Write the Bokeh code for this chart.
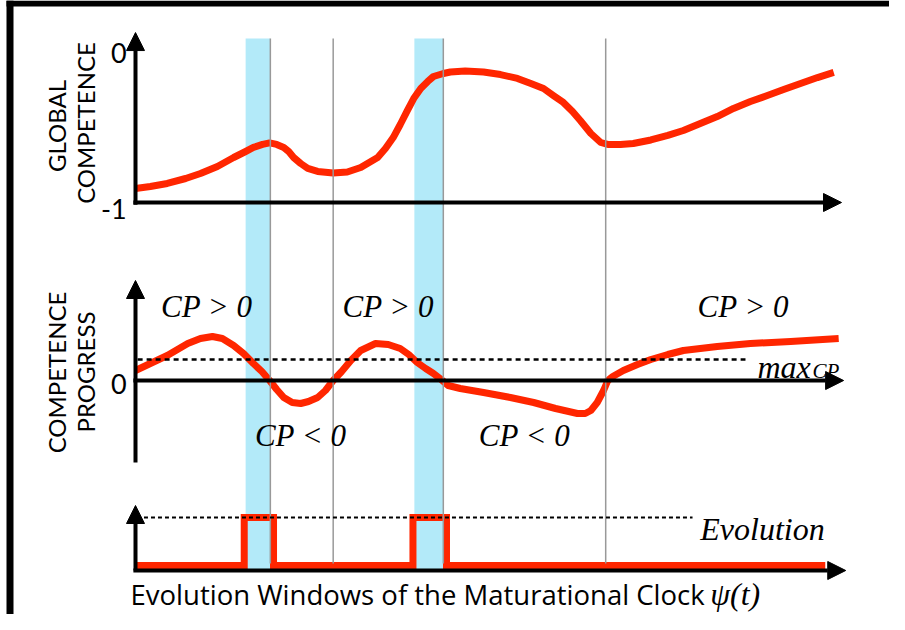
from math import pi
from bokeh.plotting import figure
from bokeh.models import Range1d, Arrow, NormalHead
from bokeh.core.properties import value
from bokeh.embed import file_html
from bokeh.resources import INLINE

# ---------------- data ----------------
# horizontal axis: maturational clock psi(t), read as 0..100 along the arrow
# global competence (0 = top of axis, -1 = bottom)
gc_t = [0.0, 2.1, 4.5, 7.1, 9.2, 11.6, 13.9, 15.6, 16.7, 18.0, 19.0, 20.0, 21.0, 21.7, 22.4,
        23.4, 24.4, 25.8, 28.0, 30.0, 31.9, 33.1, 34.3, 35.4, 36.5, 37.5, 38.5, 39.4, 40.4,
        41.4, 42.2, 43.6, 44.6, 46.7, 49.3, 51.7, 54.1, 56.0, 57.8, 59.2, 60.6, 61.9, 63.0,
        64.5, 65.9, 66.9, 68.7, 70.5, 73.0, 75.4, 77.6, 80.0, 82.4, 84.7, 87.1, 89.5, 91.8,
        94.2, 96.6, 98.9]
gc_v = [-0.907, -0.893, -0.873, -0.840, -0.807, -0.760, -0.700, -0.660, -0.633, -0.613,
        -0.603, -0.613, -0.633, -0.660, -0.700, -0.740, -0.773, -0.793, -0.803, -0.797,
        -0.767, -0.733, -0.700, -0.640, -0.567, -0.480, -0.387, -0.307, -0.240, -0.193,
        -0.160, -0.140, -0.130, -0.123, -0.130, -0.147, -0.173, -0.207, -0.240, -0.287,
        -0.333, -0.393, -0.453, -0.540, -0.600, -0.613, -0.613, -0.607, -0.583, -0.553,
        -0.520, -0.473, -0.427, -0.373, -0.327, -0.287, -0.247, -0.207, -0.167, -0.133]

# competence progress
cp_t = [0.0, 2.1, 4.5, 7.4, 9.2, 10.9, 12.3, 13.9, 15.3, 16.7, 17.9, 19.0, 20.0, 21.0, 22.2,
        23.4, 24.5, 25.8, 26.9, 28.0, 29.2, 30.5, 31.9, 34.0, 35.8, 37.5, 38.7, 39.9, 41.1,
        42.2, 43.3, 44.3, 46.0, 49.3, 53.1, 56.4, 59.5, 62.6, 63.7, 64.5, 65.4, 66.3, 66.9,
        67.6, 69.1, 71.1, 73.0, 75.4, 77.6, 82.4, 87.1, 92.8, 99.6]
cp_v = [0.20, 0.34, 0.50, 0.74, 0.84, 0.88, 0.84, 0.70, 0.54, 0.34, 0.18, 0.00, -0.18,
        -0.34, -0.44, -0.46, -0.42, -0.34, -0.20, 0.00, 0.18, 0.40, 0.60, 0.74, 0.72, 0.64,
        0.52, 0.36, 0.24, 0.14, 0.02, -0.10, -0.16, -0.24, -0.34, -0.44, -0.56, -0.66,
        -0.66, -0.60, -0.44, -0.20, 0.00, 0.08, 0.20, 0.32, 0.42, 0.52, 0.60, 0.68, 0.74,
        0.78, 0.84]
max_cp = 0.42

# evolution windows (0 = no evolution, 1 = evolution)
evo_t = [0.0, 15.4, 15.4, 19.55, 19.55, 39.3, 39.3, 44.05, 44.05, 97.7]
evo_v = [0, 0, 1, 1, 0, 0, 1, 1, 0, 0]
evolution_level = 1

# highlighted windows and stage boundaries
window_start = [15.6, 39.5]
window_end = [19.1, 43.6]
boundaries = [19.1, 28.0, 43.6, 66.6]

# tick labels
gc_ticks = [0, -1]
gc_tick_labels = ["0", "-1"]
cp_ticks = [0]
cp_tick_labels = ["0"]

# ---------------- layout ----------------
W, H = 889, 614
T0_PX, PX_PER_T = 135, 7.06   # clock origin and scale (pixels)


def tx(px):
    return (px - T0_PX) / PX_PER_T


def yr(zero_px, px_per_unit):
    return Range1d(start=(zero_px - H) / px_per_unit, end=zero_px / px_per_unit)


p = figure(width=W, height=H, output_backend="svg", toolbar_location=None,
           x_axis_type=None, y_axis_type=None,
           x_range=Range1d(tx(0), tx(W)),
           y_range=Range1d(H, 0),   # layout range (pixels, downward)
           min_border=0, border_fill_color="white", background_fill_color="white",
           outline_line_color=None)
p.grid.visible = False
p.extra_y_ranges = {"gc": yr(52, 150), "cp": yr(380, 50), "evo": yr(565, 48)}

RED = "#ff2600"
BLUE = "#b3eaf9"
GREY = "#999999"
SANS = value("Lato")
SERIF = value("Liberation Serif")

# black picture frame (left and top edges)
p.quad(left=[tx(6), tx(6)], right=[tx(13), tx(W)],
       top=[0, 0], bottom=[H, 6], fill_color="black", line_color=None)

# windows
p.quad(left=window_start, right=window_end, top=38, bottom=569,
       fill_color=BLUE, line_color=None)

# curves
p.line(gc_t, gc_v, y_range_name="gc", line_color=RED, line_width=7, line_join="round")
p.line(cp_t, cp_v, y_range_name="cp", line_color=RED, line_width=7, line_join="round")
p.line(evo_t, evo_v, y_range_name="evo", line_color=RED, line_width=7, line_join="miter")

# stage boundaries
p.segment(x0=boundaries, x1=boundaries, y0=38, y1=563, line_color=GREY, line_width=1.5)

# thresholds
p.segment(x0=[0.3], x1=[86.4], y0=[max_cp], y1=[max_cp], y_range_name="cp",
          line_color="black", line_width=2.5, line_dash="5 4")
p.segment(x0=[1.2], x1=[78.9], y0=[evolution_level], y1=[evolution_level],
          y_range_name="evo", line_color="black", line_width=2, line_dash="4 3")


def axis_arrow(x0, y0, x1, y1, rng):
    p.add_layout(Arrow(x_start=x0, y_start=y0, x_end=x1, y_end=y1, y_range_name=rng,
                       line_color="black", line_width=4,
                       end=NormalHead(size=18, fill_color="black", line_color="black")))


# axes
axis_arrow(0, -1.015, 0, 0.133, "gc")
axis_arrow(-0.3, -1, 100, -1, "gc")
axis_arrow(0, -1.64, 0, 2.0, "cp")
axis_arrow(-0.3, 0, 100.3, 0, "cp")
axis_arrow(0, -0.104, 0, 1.25, "evo")
axis_arrow(-0.3, -0.104, 100.6, -0.104, "evo")

# tick labels
p.text(x=[-1.25] * len(gc_ticks), y=[gc_ticks[0], gc_ticks[1] - 0.04], text=gc_tick_labels,
       y_range_name="gc", text_font=SANS, text_font_size="27px",
       text_align="right", text_baseline="middle", text_color="black")
p.text(x=[-1.25], y=[cp_ticks[0] - 0.06], text=cp_tick_labels,
       y_range_name="cp", text_font=SANS, text_font_size="27px",
       text_align="right", text_baseline="middle", text_color="black")

# axis titles (rotated)
p.text(x=[-11.2, -7.15], y=[-0.49, -0.47], text=["GLOBAL", "COMPETENCE"], y_range_name="gc",
       angle=pi / 2, text_font=SANS, text_font_size="24px",
       text_align="center", text_baseline="middle", text_color="black")
p.text(x=[-11.2, -7.15], y=[0.16, 0.17], text=["COMPETENCE", "PROGRESS"], y_range_name="cp",
       angle=pi / 2, text_font=SANS, text_font_size="24px",
       text_align="center", text_baseline="middle", text_color="black")

# CP annotations
p.text(x=[10.1, 35.8, 86.1], y=[1.48, 1.48, 1.48], text=["CP > 0"] * 3, y_range_name="cp",
       text_font=SERIF, text_font_style="italic", text_font_size="31px",
       text_align="center", text_baseline="middle", text_color="black")
p.text(x=[23.4, 55.1], y=[-1.1, -1.1], text=["CP < 0"] * 2, y_range_name="cp",
       text_font=SERIF, text_font_style="italic", text_font_size="31px",
       text_align="center", text_baseline="middle", text_color="black")
p.text(x=[88.1], y=[0.28], text=["max"], y_range_name="cp",
       text_font=SERIF, text_font_style="italic", text_font_size="32px",
       text_align="left", text_baseline="alphabetic", text_color="black")
p.text(x=[95.9], y=[0.2], text=["CP"], y_range_name="cp",
       text_font=SERIF, text_font_style="italic", text_font_size="21px",
       text_align="left", text_baseline="alphabetic", text_color="black")
p.text(x=[80.0], y=[0.77], text=["Evolution"], y_range_name="evo",
       text_font=SERIF, text_font_style="italic", text_font_size="32px",
       text_align="left", text_baseline="alphabetic", text_color="black")

# caption
p.text(x=[-0.7], y=[-0.6], text=["Evolution Windows of the Maturational Clock"],
       y_range_name="evo", text_font=value("Open Sans"), text_font_size="27.5px",
       text_align="left", text_baseline="alphabetic", text_color="black")
p.text(x=[81.4], y=[-0.6], text=["ψ(t)"], y_range_name="evo",
       text_font=SERIF, text_font_style="italic", text_font_size="32px",
       text_align="left", text_baseline="alphabetic", text_color="black")

open("out.html", "w").write(file_html(p, INLINE))
